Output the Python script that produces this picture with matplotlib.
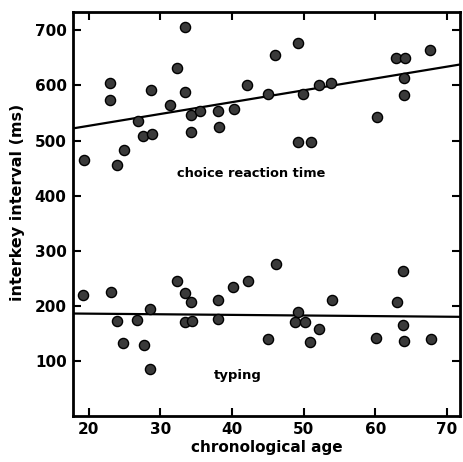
import numpy as np
import matplotlib.pyplot as plt

# choice reaction time (upper cluster)
rt_age = [19.3, 23.0, 23.0, 24.0, 25.0, 26.9, 27.6, 28.7, 28.9, 31.4, 32.4, 33.4,
          33.4, 34.3, 34.3, 35.5, 38.1, 38.2, 40.3, 42.1, 45.1, 46.0, 49.2, 49.2,
          49.9, 51.0, 52.1, 53.8, 60.3, 62.9, 64.1, 64.0, 64.0, 67.6]
rt_ms = [465, 604, 573, 455, 483, 535, 508, 591, 512, 564, 632, 706,
         588, 547, 515, 554, 553, 525, 557, 601, 585, 656, 677, 497,
         585, 497, 600, 605, 543, 650, 650, 613, 582, 664]

# typing (lower cluster)
typing_age = [19.2, 23.1, 24.0, 24.8, 26.8, 27.7, 28.6, 28.6, 32.3, 33.4, 34.3,
              33.5, 34.4, 38.1, 38.1, 40.2, 42.3, 45.0, 46.1, 49.2, 48.8, 50.2,
              52.1, 50.9, 53.9, 60.1, 63.1, 63.9, 63.9, 64.0, 67.8]
typing_ms = [220, 225, 172, 133, 174, 128, 195, 86, 245, 223, 207,
             170, 172, 210, 176, 234, 245, 139, 275, 189, 171, 171,
             157, 134, 210, 142, 207, 264, 166, 137, 140]

# fitted lines at the axis edges
line_age = [17.8, 71.8]
rt_line = [522, 638]
typing_line = [186, 180]

plt.rcParams['font.family'] = 'DejaVu Sans'
plt.rcParams['font.weight'] = 'bold'

fig = plt.figure(figsize=(4.64, 4.62), dpi=100)
ax = fig.add_axes([0.157, 0.0996, 0.834, 0.874])

ax.plot(line_age, rt_line, color='black', lw=1.6)
ax.plot(line_age, typing_line, color='black', lw=1.6)
ax.plot(rt_age, rt_ms, 'o', ms=7.3, mfc='#3a3a3a', mec='black', mew=1)
ax.plot(typing_age, typing_ms, 'o', ms=7.3, mfc='#3a3a3a', mec='black', mew=1)

ax.text(42.7, 440, 'choice reaction time', ha='center', va='center', fontsize=9.3)
ax.text(40.8, 74, 'typing', ha='center', va='center', fontsize=9.5)

ax.set_xlim(17.8, 71.8)
ax.set_ylim(0, 733)
ax.set_xticks([20, 30, 40, 50, 60, 70])
ax.set_yticks([100, 200, 300, 400, 500, 600, 700])
ax.tick_params(direction='in', length=6, width=1.5, top=True, right=True,
               labelsize=11, pad=4.5)
for s in ax.spines.values():
    s.set_linewidth(2)

ax.set_xlabel('chronological age', fontsize=11, fontweight='bold', labelpad=2)
ax.set_ylabel('interkey interval (ms)', fontsize=11.5, fontweight='bold')
ax.yaxis.set_label_coords(-0.124, 0.53)

plt.savefig('out.png', dpi=100)
